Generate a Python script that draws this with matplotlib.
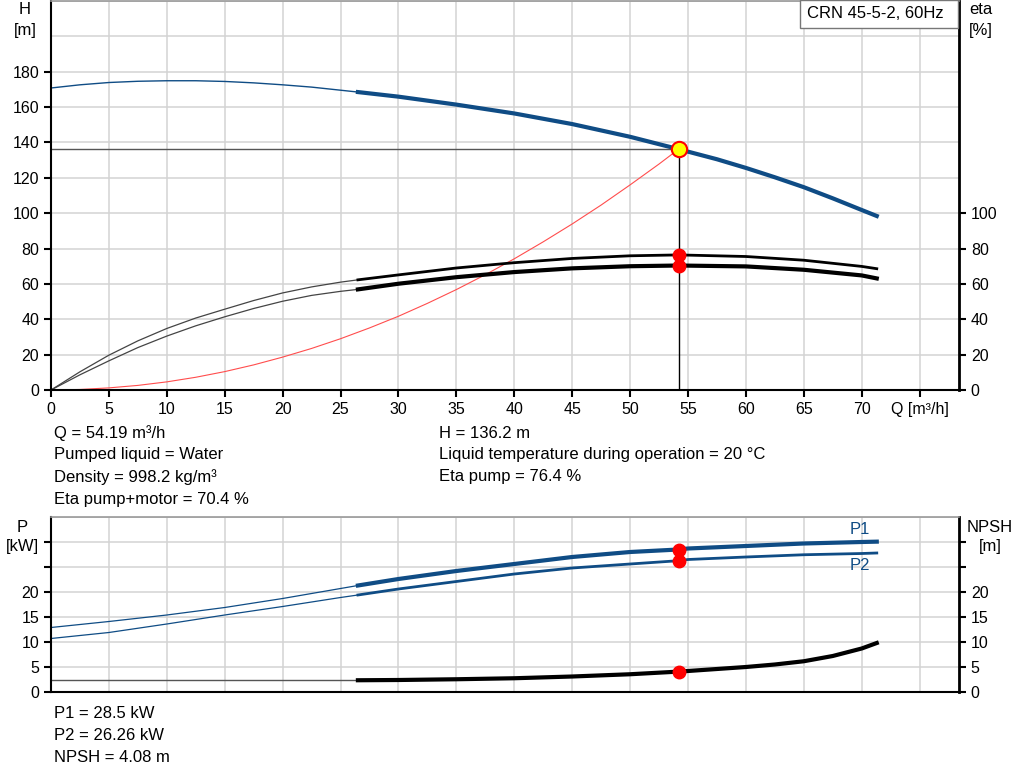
import numpy as np
import matplotlib.pyplot as plt
from matplotlib.patches import Rectangle

plt.rcParams['font.family'] = ['Liberation Sans', 'DejaVu Sans']

# duty point
q_op = 54.19
h_op = 136.2
eta_pump_op = 76.4
eta_tot_op = 70.4
p1_op = 28.5
p2_op = 26.26
npsh_op = 4.08

# head curve (thin part, then thick part)
q_h_thin = [0, 2.5, 5, 7.5, 10, 12.5, 15, 17.5, 20, 22.5, 26.5]
h_thin = [170.8, 172.6, 173.9, 174.6, 174.9, 174.9, 174.5, 173.7, 172.6, 171.3, 168.5]
q_h = [26.5, 30, 35, 40, 45, 50, 54.19, 57.5, 60, 62.5, 65, 67.5, 70, 71.3]
h = [168.5, 165.9, 161.4, 156.4, 150.4, 143.2, 136.2, 130.5, 125.6, 120.3,
     114.7, 108.4, 101.8, 98.4]

# system curve
q_sys = [0, 2.5, 5, 7.5, 10, 12.5, 15, 17.5, 20, 22.5, 25, 27.5, 30, 32.5, 35,
         37.5, 40, 42.5, 45, 47.5, 50, 52.5, 54.19]
h_sys = [0, 0.3, 1.2, 2.6, 4.6, 7.2, 10.4, 14.2, 18.6, 23.5, 29.0, 35.1, 41.7,
         49.0, 56.8, 65.2, 74.2, 83.8, 93.9, 104.6, 116.0, 127.8, 136.2]

# efficiency curves
q_eta_thin = [0, 2.5, 5, 7.5, 10, 12.5, 15, 17.5, 20, 22.5, 25, 26.5]
eta_pump_thin = [0, 10.3, 19.7, 27.8, 34.8, 40.7, 45.7, 50.6, 54.9, 58.3, 61.0, 62.3]
eta_tot_thin = [0, 8.6, 16.5, 24.0, 30.5, 36.3, 41.4, 46.1, 50.2, 53.5, 55.8, 56.9]
q_eta = [26.5, 30, 35, 40, 45, 50, 54.19, 60, 65, 70, 71.3]
eta_pump = [62.3, 65.1, 69.0, 72.0, 74.4, 75.9, 76.4, 75.5, 73.4, 69.9, 68.6]
eta_tot = [56.9, 60.1, 63.8, 66.7, 68.8, 70.0, 70.4, 69.9, 68.0, 64.8, 63.1]

# power curves
q_p_thin = [0, 5, 10, 15, 20, 25, 26.5]
p1_thin = [12.9, 14.1, 15.4, 16.9, 18.7, 20.7, 21.3]
p2_thin = [10.7, 11.9, 13.6, 15.4, 17.1, 18.9, 19.4]
q_p = [26.5, 30, 35, 40, 45, 50, 54.19, 55, 60, 65, 70, 71.3]
p1 = [21.3, 22.6, 24.2, 25.6, 27.0, 28.0, 28.5, 28.7, 29.2, 29.7, 30.0, 30.07]
p2 = [19.4, 20.6, 22.1, 23.6, 24.8, 25.6, 26.26, 26.5, 27.0, 27.45, 27.7, 27.8]

# NPSH curve
q_npsh_thin = [0, 26.5]
npsh_thin = [2.35, 2.35]
q_npsh = [26.5, 30, 35, 40, 45, 50, 54.19, 55, 60, 62.5, 65, 67.5, 70, 71.3]
npsh = [2.35, 2.4, 2.55, 2.75, 3.1, 3.55, 4.08, 4.2, 5.0, 5.5, 6.15, 7.2, 8.7, 9.8]

blue = '#0f4c85'
grid_c = '#d3d3d3'
fs = 12
fs_tick = 11.5

fig = plt.figure(figsize=(10.24, 7.81), dpi=100)
W, H = 1024, 781

def box(l, t, r, b):
    return [l / W, 1 - b / H, (r - l) / W, (b - t) / H]

ax = fig.add_axes(box(51, 1, 959, 390))
ax2 = fig.add_axes(box(51, 517, 959, 692))

for a in (ax, ax2):
    a.set_xlim(0, 78.4)
    a.set_xticks(np.arange(0, 80, 5))
    a.grid(True, which='both', color=grid_c, lw=1.1)
    a.set_axisbelow(True)
    a.spines['top'].set_color('#999999')
    a.spines['top'].set_linewidth(1.2)
    a.spines['right'].set_linewidth(2)
    a.spines['left'].set_linewidth(1.5)
    a.spines['bottom'].set_linewidth(1.5)
    a.tick_params(labelsize=fs_tick, length=5, width=1.5, direction='out')
    a.tick_params(which='minor', length=0)

# top chart
ax.set_ylim(0, 220)
ax.set_yticks(np.arange(0, 200, 20))
ax.set_yticks([200, 220], minor=True)
xl = [str(v) for v in range(0, 75, 5)] + ['Q [m³/h]']
ax.set_xticklabels(xl)

axr = ax.twinx()
axr.set_position(ax.get_position())
axr.set_ylim(0, 220)
axr.set_yticks(np.arange(0, 120, 20))
axr.tick_params(labelsize=fs_tick, length=5, width=1.5)
for s in axr.spines.values():
    s.set_visible(False)

ax.plot(q_h_thin, h_thin, color=blue, lw=1)
ax.plot(q_h, h, color=blue, lw=3)
ax.plot(q_sys, h_sys, color='#ff4d4d', lw=0.8)
ax.plot(q_eta_thin, eta_pump_thin, color='#444444', lw=0.9)
ax.plot(q_eta_thin, eta_tot_thin, color='#444444', lw=0.9)
ax.plot(q_eta, eta_pump, color='black', lw=2)
ax.plot(q_eta, eta_tot, color='black', lw=3)
ax.plot([0, q_op], [h_op, h_op], color='#555555', lw=1)
ax.plot([q_op, q_op], [0, h_op], color='black', lw=1)
ax.plot([q_op, q_op], [eta_pump_op, eta_tot_op], 'o', color='red', ms=9)
ax.plot(q_op, h_op, 'o', mfc='yellow', mec='red', mew=1.5, ms=11, zorder=5)

fig.text(25 / W, 1 - 10 / H, 'H', ha='center', va='center', fontsize=fs)
fig.text(25 / W, 1 - 30 / H, '[m]', ha='center', va='center', fontsize=fs)
fig.text(981 / W, 1 - 10 / H, 'eta', ha='center', va='center', fontsize=fs)
fig.text(981 / W, 1 - 30 / H, '[%]', ha='center', va='center', fontsize=fs)

fig.add_artist(Rectangle((800 / W, 1 - 28 / H), 158 / W, 28 / H,
                         transform=fig.transFigure, fc='white', ec='#777777', lw=1))
fig.text(875 / W, 1 - 14 / H, 'CRN 45-5-2, 60Hz', ha='center', va='center', fontsize=fs)

# lower chart
ax2.set_ylim(0, 35)
ax2.set_yticks(np.arange(0, 35, 5))
ax2.set_yticks([35], minor=True)
ax2.set_yticklabels(['0', '5', '10', '15', '20', '', ''])
ax2.tick_params(axis='x', length=0, labelbottom=False)

axr2 = ax2.twinx()
axr2.set_position(ax2.get_position())
axr2.set_ylim(0, 35)
axr2.set_yticks(np.arange(0, 35, 5))
axr2.set_yticklabels(['0', '5', '10', '15', '20', '', ''])
axr2.tick_params(labelsize=fs_tick, length=5, width=1.5)
for s in axr2.spines.values():
    s.set_visible(False)

ax2.plot(q_p_thin, p1_thin, color=blue, lw=0.9)
ax2.plot(q_p_thin, p2_thin, color=blue, lw=0.9)
ax2.plot(q_p, p1, color=blue, lw=3)
ax2.plot(q_p, p2, color=blue, lw=2)
ax2.plot(q_npsh_thin, npsh_thin, color='#555555', lw=1)
ax2.plot(q_npsh, npsh, color='black', lw=3)
ax2.plot([q_op] * 3, [p1_op, p2_op, npsh_op], 'o', color='red', ms=9)
ax2.text(q_p[-1] - 1.5, p1[-1] + 0.9, 'P1', color=blue, fontsize=fs, ha='center', va='bottom')
ax2.text(q_p[-1] - 1.5, p2[-1] - 0.9, 'P2', color=blue, fontsize=fs, ha='center', va='top')

fig.text(22 / W, 1 - 527 / H, 'P', ha='center', va='center', fontsize=fs)
fig.text(22 / W, 1 - 547 / H, '[kW]', ha='center', va='center', fontsize=fs)
fig.text(990 / W, 1 - 527 / H, 'NPSH', ha='center', va='center', fontsize=fs)
fig.text(990 / W, 1 - 547 / H, '[m]', ha='center', va='center', fontsize=fs)

# info texts
left_lines = ['Q = 54.19 m³/h', 'Pumped liquid = Water', 'Density = 998.2 kg/m³',
              'Eta pump+motor = 70.4 %']
right_lines = ['H = 136.2 m', 'Liquid temperature during operation = 20 °C',
               'Eta pump = 76.4 %']
bottom_lines = ['P1 = 28.5 kW', 'P2 = 26.26 kW', 'NPSH = 4.08 m']
for i, s in enumerate(left_lines):
    fig.text(54 / W, 1 - (433 + 22 * i) / H, s, va='center', fontsize=fs)
for i, s in enumerate(right_lines):
    fig.text(439 / W, 1 - (433 + 22 * i) / H, s, va='center', fontsize=fs)
for i, s in enumerate(bottom_lines):
    fig.text(54 / W, 1 - (713 + 22 * i) / H, s, va='center', fontsize=fs)

fig.savefig('out.png', dpi=100)
